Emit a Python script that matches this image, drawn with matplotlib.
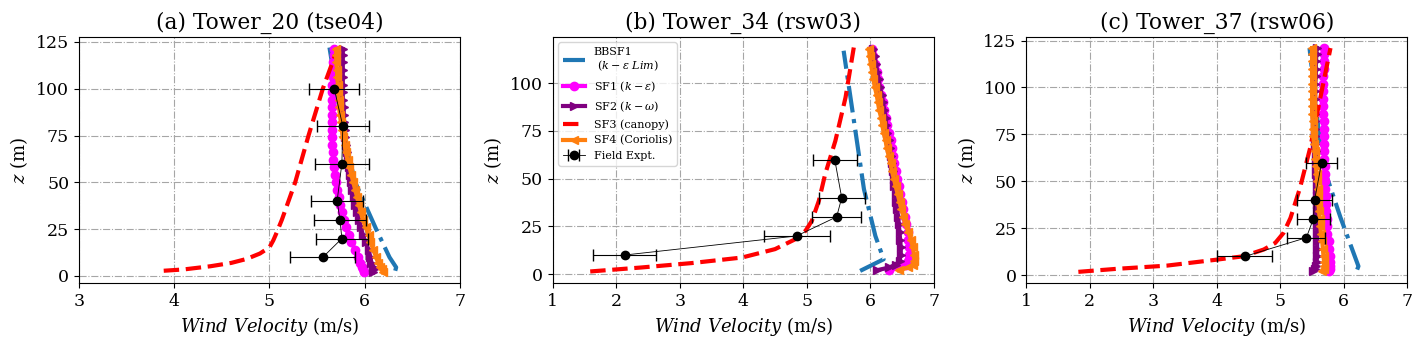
import numpy as np
import matplotlib.pyplot as plt

plt.rcParams['font.family'] = 'DejaVu Serif'
plt.rcParams['mathtext.fontset'] = 'dejavuserif'

# heights of the model output levels (m)
z_levels = [2, 3.5, 5, 7, 10, 14, 18, 22, 26, 30, 34, 38, 42, 46, 50, 54, 58,
            62, 66, 70, 74, 78, 82, 86, 90, 94, 98, 102, 106, 110, 114, 118, 121]
z_levels_b = z_levels[:-1]

# ---- (a) Tower_20 ----
sf1_a = [5.99, 5.98, 5.97, 5.95, 5.93, 5.90, 5.86, 5.83, 5.80, 5.78, 5.76, 5.74, 5.73, 5.71, 5.70, 5.69, 5.68,
         5.67, 5.67, 5.66, 5.66, 5.66, 5.66, 5.66, 5.66, 5.66, 5.66, 5.66, 5.67, 5.67, 5.67, 5.68, 5.68]
sf2_a = [6.09, 6.10, 6.09, 6.07, 6.06, 6.04, 6.01, 5.98, 5.96, 5.94, 5.92, 5.90, 5.89, 5.87, 5.86, 5.85, 5.83,
         5.82, 5.81, 5.80, 5.79, 5.79, 5.78, 5.78, 5.78, 5.77, 5.77, 5.77, 5.77, 5.77, 5.77, 5.77, 5.77]
sf4_a = [6.19, 6.18, 6.16, 6.14, 6.12, 6.09, 6.06, 6.04, 6.01, 5.98, 5.96, 5.94, 5.92, 5.90, 5.88, 5.86, 5.84,
         5.82, 5.80, 5.79, 5.77, 5.76, 5.75, 5.74, 5.73, 5.73, 5.72, 5.72, 5.71, 5.71, 5.70, 5.70, 5.70]
z_bb_a = [2.8, 4.6, 10, 25, 50, 75, 100, 122]
bb_a = [6.32, 6.33, 6.26, 6.12, 5.90, 5.78, 5.70, 5.63]
z_sf3_a = [2.8, 3.5, 5.2, 7, 9.1, 12, 15.3, 19, 22.5, 30, 50, 75, 100, 118]
sf3_a = [3.89, 4.10, 4.38, 4.60, 4.76, 4.90, 5.00, 5.04, 5.07, 5.13, 5.27, 5.41, 5.56, 5.69]
z_obs_a = [10, 20, 30, 40, 60, 80, 100]
obs_a = [5.56, 5.76, 5.74, 5.71, 5.76, 5.77, 5.68]
err_a = [0.34, 0.27, 0.27, 0.27, 0.28, 0.27, 0.26]

# ---- (b) Tower_34 ----
sf1_b = [6.30, 6.47, 6.57, 6.60, 6.61, 6.61, 6.60, 6.59, 6.57, 6.55, 6.52, 6.50, 6.47, 6.45, 6.42, 6.40,
         6.38, 6.36, 6.34, 6.32, 6.30, 6.27, 6.25, 6.22, 6.20, 6.17, 6.14, 6.12, 6.10, 6.07, 6.05, 6.03]
sf2_b = [6.10, 6.30, 6.40, 6.46, 6.48, 6.48, 6.47, 6.46, 6.45, 6.44, 6.42, 6.41, 6.40, 6.38, 6.37, 6.35,
         6.34, 6.32, 6.31, 6.29, 6.27, 6.25, 6.24, 6.22, 6.20, 6.18, 6.15, 6.13, 6.11, 6.09, 6.07, 6.05]
sf4_b = [6.45, 6.60, 6.67, 6.69, 6.69, 6.67, 6.64, 6.60, 6.55, 6.52, 6.49, 6.46, 6.43, 6.40, 6.37, 6.34,
         6.32, 6.29, 6.26, 6.24, 6.21, 6.19, 6.17, 6.14, 6.12, 6.10, 6.07, 6.05, 6.03, 6.01, 5.99, 5.98]
z_bb_b = [1.7, 7.8, 20, 44.5, 74, 117]
bb_b = [5.84, 6.21, 6.08, 5.90, 5.77, 5.58]
z_sf3_b = [1.4, 3.5, 5.8, 8.7, 13.1, 18.3, 22.7, 27.9, 38.4, 52.4, 69.8, 92.5, 118.7]
sf3_b = [1.59, 2.40, 3.19, 3.98, 4.50, 4.82, 4.98, 5.08, 5.19, 5.29, 5.45, 5.61, 5.74]
z_obs_b = [10, 20, 30, 40, 60]
obs_b = [2.13, 4.84, 5.47, 5.55, 5.44]
err_b = [0.50, 0.52, 0.39, 0.36, 0.35]

# ---- (c) Tower_37 ----
sf1_c = [5.77, 5.78, 5.78, 5.78, 5.78, 5.77, 5.76, 5.74, 5.73, 5.73, 5.72, 5.72, 5.72, 5.71, 5.71, 5.70, 5.70,
         5.69, 5.69, 5.69, 5.68, 5.68, 5.68, 5.67, 5.67, 5.67, 5.67, 5.67, 5.67, 5.68, 5.68, 5.68, 5.68]
sf2_c = [5.51, 5.54, 5.56, 5.57, 5.58, 5.58, 5.58, 5.58, 5.58, 5.58, 5.57, 5.57, 5.57, 5.57, 5.57, 5.56, 5.56,
         5.56, 5.56, 5.55, 5.55, 5.55, 5.55, 5.55, 5.55, 5.55, 5.55, 5.55, 5.56, 5.56, 5.56, 5.57, 5.57]
sf4_c = [5.66, 5.68, 5.69, 5.69, 5.68, 5.67, 5.66, 5.64, 5.63, 5.62, 5.61, 5.60, 5.59, 5.59, 5.58, 5.57, 5.56,
         5.55, 5.54, 5.53, 5.52, 5.51, 5.51, 5.50, 5.50, 5.50, 5.50, 5.50, 5.50, 5.50, 5.50, 5.50, 5.50]
z_bb_c = [3, 4.8, 30.5, 59.8, 121]
bb_c = [6.21, 6.23, 5.95, 5.66, 5.46]
z_sf3_c = [1.8, 3.4, 5.1, 8.3, 10.1, 13.7, 17.2, 22.5, 30.5, 46.5, 67.8, 94.5, 121]
sf3_c = [1.82, 2.42, 3.21, 4.00, 4.42, 4.74, 4.92, 5.05, 5.16, 5.31, 5.47, 5.63, 5.79]
z_obs_c = [10, 20, 30, 40, 60]
obs_c = [4.44, 5.41, 5.52, 5.54, 5.65]
err_c = [0.43, 0.30, 0.26, 0.27, 0.24]

panels = [
    ('(a) Tower_20 (tse04)', z_levels, sf1_a, sf2_a, sf4_a, z_bb_a, bb_a, z_sf3_a, sf3_a,
     z_obs_a, obs_a, err_a, (3, 7), (-3.8, 127.7), [0, 25, 50, 75, 100, 125]),
    ('(b) Tower_34 (rsw03)', z_levels_b, sf1_b, sf2_b, sf4_b, z_bb_b, bb_b, z_sf3_b, sf3_b,
     z_obs_b, obs_b, err_b, (1, 7), (-4.7, 124.3), [0, 25, 50, 75, 100]),
    ('(c) Tower_37 (rsw06)', z_levels, sf1_c, sf2_c, sf4_c, z_bb_c, bb_c, z_sf3_c, sf3_c,
     z_obs_c, obs_c, err_c, (1, 7), (-4.2, 127.0), [0, 25, 50, 75, 100, 125]),
]

fig = plt.figure(figsize=(14.25, 3.44), dpi=100)
lefts = [0.0554, 0.3879, 0.7202]

for i, (title, zl, s1, s2, s4, zbb, bb, z3, s3, zo, ob, er, xl, yl, yt) in enumerate(panels):
    ax = fig.add_axes([lefts[i], 0.177, 0.2674, 0.716])
    ax.plot(bb, zbb, color='#1f77b4', ls='-.', lw=3, label='BBSF1\n $(k-\\varepsilon\\ Lim)$')
    ax.plot(s1, zl, color='magenta', marker='o', ms=6, lw=3, label='SF1 $(k-\\varepsilon)$')
    ax.plot(s2, zl, color='purple', marker='>', ms=6, lw=3, label='SF2 $(k-\\omega)$')
    ax.plot(s3, z3, color='red', ls='--', lw=3, label='SF3 (canopy)')
    ax.plot(s4, zl, color='#ff7f0e', marker='<', ms=6, lw=3, label='SF4 (Coriolis)')
    ax.errorbar(ob, zo, xerr=er, fmt='-o', color='black', lw=0.6, ms=6,
                elinewidth=0.8, capsize=4, label='Field Expt.')
    ax.set_xlim(*xl)
    ax.set_ylim(*yl)
    ax.set_yticks(yt)
    ax.grid(True, ls='-.', color='0.65', lw=0.8)
    ax.tick_params(labelsize=12.5)
    ax.set_title(title, fontsize=15.7)
    ax.set_xlabel('$Wind\\ Velocity$ (m/s)', fontsize=13)
    ax.set_ylabel('$z$ (m)', fontsize=13)
    if i == 1:
        ax.legend(loc='upper left', fontsize=8)

plt.savefig('out.png', dpi=100)
plt.close()
